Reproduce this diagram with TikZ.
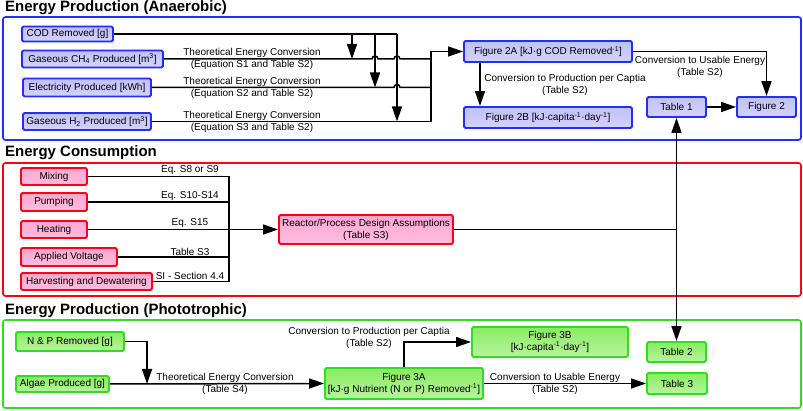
\documentclass[tikz,border=0pt]{standalone}
\usepackage{fontspec}
\setmainfont{Liberation Sans}
\usetikzlibrary{arrows.meta,positioning}

\definecolor{anaLine}{RGB}{35,45,255}
\definecolor{anaFill}{RGB}{192,192,250}
\definecolor{conLine}{RGB}{255,0,20}
\definecolor{conFill}{RGB}{255,166,210}
\definecolor{phoLine}{RGB}{50,220,35}
\definecolor{phoFill}{RGB}{136,236,96}

\begin{document}
\begin{tikzpicture}[x=1pt, y=-1pt,
  box/.style={rectangle, rounded corners=1.5pt, line width=1.9pt, align=center, inner sep=1pt, font=\fontsize{10}{12}\selectfont},
  anabox/.style={box, draw=anaLine, top color=anaFill, bottom color=anaFill!70!white},
  conbox/.style={box, draw=conLine, top color=conFill, bottom color=conFill!75!white},
  phobox/.style={box, draw=phoLine, top color=phoFill, bottom color=phoFill!60!white},
  section/.style={rounded corners=2.5pt, line width=1.7pt},
  title/.style={anchor=west, inner sep=0pt, font=\fontsize{15}{18}\selectfont\bfseries},
  note/.style={align=center, inner sep=0pt, font=\fontsize{10}{12}\selectfont},
  conn/.style={line width=1.5pt},
  arrow/.style={conn, -{Triangle[length=15pt, width=10pt]}},
]
\useasboundingbox (0,0) rectangle (803,411);

% === Section frames ===
\draw[section, anaLine] (3,17) rectangle (801,140);
\draw[section, conLine] (3,163) rectangle (801,296);
\draw[section, phoLine] (3,320) rectangle (801,408);
\node[title] (tana) at (5,8) {Energy Production (Anaerobic)};
\node[title] (tcon) at (5,153) {Energy Consumption};
\node[title] (tpho) at (5,311) {Energy Production (Phototrophic)};

% === Anaerobic ===
\node[anabox, minimum width=91pt, minimum height=15pt] (cod) at (67.5,34) {COD Removed [g]};
\node[anabox, minimum width=141pt, minimum height=17pt] (ch4) at (92.5,59) {Gaseous CH\textsubscript{4} Produced [m\textsuperscript{3}]};
\node[anabox, minimum width=128pt, minimum height=18pt] (elec) at (87,87.5) {Electricity Produced [kWh]};
\node[anabox, minimum width=128pt, minimum height=17pt] (h2) at (87,121.5) {Gaseous H\textsubscript{2} Produced [m\textsuperscript{3}]};
\node[anabox, minimum width=168pt, minimum height=21pt] (fig2a) at (548,51.5) {Figure 2A [kJ·g COD Removed\textsuperscript{-1}]};
\node[anabox, minimum width=168pt, minimum height=21pt] (fig2b) at (548,117.5) {Figure 2B [kJ·capita\textsuperscript{-1}·day\textsuperscript{-1}]};
\node[anabox, minimum width=59pt, minimum height=20pt] (tab1) at (676.5,107) {Table 1};
\node[anabox, minimum width=59pt, minimum height=20pt] (fig2) at (766.5,107) {Figure 2};

\coordinate (dA) at (352,34);
\coordinate (dB) at (375,34);
\coordinate (dC) at (397,34);
\coordinate (busA) at (431,51.5);
\coordinate (hopB) at (372,59);
\coordinate (hopC) at (394,59);
\coordinate (hopE) at (394,87.5);

\draw[conn] (cod.east) -- (dC);
\draw[arrow] (dA) -- (dA |- ch4.east);
\draw[arrow] (dB) -- (dB |- elec.east);
\draw[arrow] (dC) -- (dC |- h2.east);
\draw[conn] (ch4.east) -- (hopB) arc[start angle=180, end angle=0, radius=3pt] -- (hopC) arc[start angle=180, end angle=0, radius=3pt] -- (ch4.east -| busA);
\draw[conn] (elec.east) -- (hopE) arc[start angle=180, end angle=0, radius=3pt] -- (elec.east -| busA);
\draw[conn] (h2.east) -- (h2.east -| busA) -- (busA);
\draw[arrow] (busA) -- (fig2a.west);
\draw[arrow] ([xshift=-68pt]fig2a.south) -- ([xshift=-68pt]fig2b.north);
\draw[arrow] (fig2a.east) -- (fig2a.east -| fig2.north) -- (fig2.north);
\draw[arrow] (tab1) -- (fig2);

\node[note] (lblch4) at (252,59) {Theoretical Energy Conversion\\(Equation S1 and Table S2)};
\node[note] (lblelec) at (252,87.5) {Theoretical Energy Conversion\\(Equation S2 and Table S2)};
\node[note] (lblh2) at (252,121.5) {Theoretical Energy Conversion\\(Equation S3 and Table S2)};
\node[note] (lbl2b) at (565,85) {Conversion to Production per Captia\\(Table S2)};
\node[note] (lbluse) at (700,67) {Conversion to Usable Energy\\(Table S2)};

% === Consumption ===
\node[conbox, minimum width=66pt, minimum height=17pt] (mix) at (54,176.5) {Mixing};
\node[conbox, minimum width=66pt, minimum height=18pt] (pump) at (54,202) {Pumping};
\node[conbox, minimum width=66pt, minimum height=17pt] (heat) at (54,229.5) {Heating};
\node[conbox, minimum width=96pt, minimum height=18pt] (volt) at (69,257) {Applied Voltage};
\node[conbox, minimum width=131pt, minimum height=17pt] (harv) at (86.5,281.5) {Harvesting and Dewatering};
\node[conbox, minimum width=174pt, minimum height=29pt] (reactor) at (366,229.5) {Reactor/Process Design Assumptions\\(Table S3)};

\coordinate (busC) at (229,176.5);
\draw[conn] (mix.east) -- (busC) -- (busC |- harv.east) -- (harv.east);
\draw[conn] (pump.east) -- (pump.east -| busC);
\draw[conn] (volt.east) -- (volt.east -| busC);
\draw[arrow] (heat.east) -- (reactor.west);

\node[note, anchor=south] (lblmix) at (190,175) {Eq. S8 or S9};
\node[note, anchor=south] (lblpump) at (190,200.5) {Eq. S10-S14};
\node[note, anchor=south] (lblheat) at (190,228) {Eq. S15};
\node[note, anchor=south] (lblvolt) at (190,255.5) {Table S3};
\node[note, anchor=south] (lblharv) at (190,280) {SI - Section 4.4};

% === Phototrophic ===
\node[phobox, minimum width=108pt, minimum height=19pt] (np) at (70,341.5) {N \& P Removed [g]};
\node[phobox, minimum width=93pt, minimum height=16pt] (algae) at (62.5,384) {Algae Produced [g]};
\node[phobox, minimum width=158pt, minimum height=31pt] (fig3a) at (404,383.5) {Figure 3A\\{}[kJ·g Nutrient (N or P) Removed\textsuperscript{-1}]};
\node[phobox, minimum width=156pt, minimum height=30pt] (fig3b) at (550,342) {Figure 3B\\{}[kJ·capita\textsuperscript{-1}·day\textsuperscript{-1}]};
\node[phobox, minimum width=59pt, minimum height=20pt] (tab2) at (676.5,352) {Table 2};
\node[phobox, minimum width=60pt, minimum height=21pt] (tab3) at (677,383.5) {Table 3};

\coordinate (npj) at (147,341.5);
\draw[arrow] (np.east) -- (npj) -- (npj |- algae.east);
\draw[arrow] (algae.east) -- (fig3a.west);
\draw[arrow] (fig3a.north) -- (fig3a.north |- fig3b.west) -- (fig3b.west);
\draw[arrow] (fig3a.east) -- (tab3.west);

\node[note] (lblalg) at (225,384) {Theoretical Energy Conversion\\(Table S4)};
\node[note] (lbl3b) at (369,338) {Conversion to Production per Captia\\(Table S2)};
\node[note] (lbl3use) at (555,384) {Conversion to Usable Energy\\(Table S2)};

% === Design assumptions feed Tables 1 and 2 ===
\coordinate (jr) at (reactor.east -| tab1.south);
\draw[conn] (reactor.east) -- (jr);
\draw[arrow] (jr) -- (tab1.south);
\draw[arrow] (jr) -- (tab2.north);

\end{tikzpicture}
\end{document}
